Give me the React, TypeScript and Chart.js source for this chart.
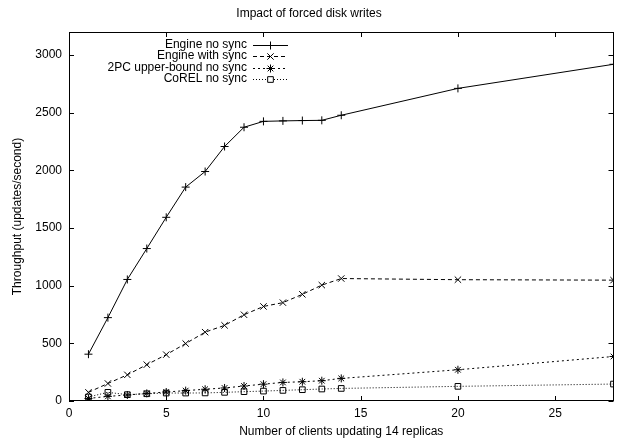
import React, { useEffect, useRef } from "react";
import { Chart, registerables } from "chart.js";
import { drawPoint } from "chart.js/helpers";

Chart.register(...registerables);

const clients = [1, 2, 3, 4, 5, 6, 7, 8, 9, 10, 11, 12, 13, 14, 20, 28];
const engineNoSync = [406, 723, 1054, 1322, 1593, 1855, 1990, 2207, 2374, 2425, 2429, 2432, 2434, 2478, 2711, 2920];
const engineWithSync = [75, 152, 227, 315, 402, 498, 597, 656, 748, 820, 853, 925, 1005, 1062, 1052, 1048];
const twoPCNoSync = [22, 40, 52, 66, 78, 90, 102, 113, 130, 146, 161, 167, 176, 196, 271, 386];
const corelNoSync = [35, 75, 55, 63, 69, 69, 70, 75, 81, 86, 92, 98, 104, 109, 127, 147];

const seriesNames = ["Engine no sync", "Engine with sync", "2PC upper-bound no sync", "CoREL no sync"];
const xTicks = [0, 5, 10, 15, 20, 25];
const yTicks = [0, 500, 1000, 1500, 2000, 2500, 3000];

const FONT = "'Liberation Sans', Arial, Helvetica, sans-serif";
const FS = 12;

const styles = [
  { dash: [], point: "cross", radius: 4 },
  { dash: [4, 3], point: "crossRot", radius: 4.5 },
  { dash: [2, 3], point: "star", radius: 4 },
  { dash: [1, 2], point: "rect", radius: 4 },
];

const frame = {
  id: "frame",
  afterDatasetsDraw(chart: any) {
    const { ctx, chartArea: a, scales } = chart;
    ctx.save();
    ctx.strokeStyle = "#000";
    ctx.lineWidth = 1;
    ctx.setLineDash([]);
    ctx.strokeRect(Math.round(a.left) + 0.5, Math.round(a.top) + 0.5, Math.round(a.right - a.left) - 1, Math.round(a.bottom - a.top) - 1);
    const L = 5;
    ctx.beginPath();
    for (const v of xTicks) {
      const px = Math.round(scales.x.getPixelForValue(v)) + 0.5;
      ctx.moveTo(px, a.bottom);
      ctx.lineTo(px, a.bottom - L);
      ctx.moveTo(px, a.top);
      ctx.lineTo(px, a.top + L);
    }
    for (const v of yTicks) {
      const py = Math.round(scales.y.getPixelForValue(v)) + 0.5;
      ctx.moveTo(a.left, py);
      ctx.lineTo(a.left + L, py);
      ctx.moveTo(a.right, py);
      ctx.lineTo(a.right - L, py);
    }
    ctx.stroke();
    ctx.restore();
  },
  afterDraw(chart: any) {
    const { ctx } = chart;
    ctx.save();
    ctx.font = `${FS}px ${FONT}`;
    ctx.textAlign = "right";
    ctx.textBaseline = "middle";
    const textRight = 247;
    const x0 = 253;
    const x1 = 288;
    seriesNames.forEach((name, i) => {
      const y = 44.5 + i * 11.5;
      ctx.fillStyle = "#000";
      ctx.fillText(name, textRight, y);
      const st = styles[i];
      ctx.strokeStyle = "#000";
      ctx.lineWidth = 1;
      ctx.setLineDash(st.dash);
      ctx.beginPath();
      ctx.moveTo(x0, Math.round(y) + 0.5);
      ctx.lineTo(x1, Math.round(y) + 0.5);
      ctx.stroke();
      ctx.setLineDash([]);
      ctx.fillStyle = "#fff";
      drawPoint(ctx, { pointStyle: st.point, radius: st.radius, borderWidth: 1, rotation: 0 } as any, (x0 + x1) / 2, Math.round(y) + 0.5);
    });
    ctx.restore();
  },
};

export default function App() {
  const ref = useRef<HTMLCanvasElement>(null);
  useEffect(() => {
    document.body.style.margin = "0";
    const datasets = [engineNoSync, engineWithSync, twoPCNoSync, corelNoSync].map((vals, i) => ({
      label: seriesNames[i],
      data: clients.map((c, j) => ({ x: c, y: vals[j] })),
      borderColor: "#000",
      backgroundColor: "rgba(0,0,0,0)",
      borderWidth: 1,
      borderDash: styles[i].dash,
      pointStyle: styles[i].point,
      pointRadius: styles[i].radius,
      pointBorderColor: "#000",
      pointBackgroundColor: "rgba(0,0,0,0)",
      pointBorderWidth: 1,
      tension: 0,
    }));
    const chart = new Chart(ref.current!, {
      type: "line",
      data: { datasets },
      plugins: [frame],
      options: {
        animation: false,
        responsive: false,
        layout: { padding: { left: 0, right: 1, top: 0, bottom: 0 } },
        plugins: {
          legend: { display: false },
          tooltip: { enabled: false },
          title: {
            display: true,
            text: "Impact of forced disk writes",
            color: "#000",
            font: { family: FONT, size: FS, weight: "normal" },
            padding: { top: 6.8, bottom: 10.8 },
          },
        },
        scales: {
          x: {
            type: "linear",
            min: 0,
            max: 28,
            afterFit: (s: any) => { s.height = 43; },
            afterBuildTicks: (s: any) => { s.ticks = xTicks.map((v) => ({ value: v })); },
            border: { display: false },
            grid: { display: false, drawTicks: false },
            ticks: {
              color: "#000",
              padding: 5.5,
              maxRotation: 0,
              autoSkip: false,
              callback: (v: any) => String(v),
              font: { family: FONT, size: FS },
            },
            title: {
              display: true,
              text: "Number of clients updating 14 replicas",
              color: "#000",
              font: { family: FONT, size: FS },
              padding: { top: 0, bottom: 4.8 },
            },
          },
          y: {
            type: "linear",
            min: 0,
            max: 3200,
            afterFit: (s: any) => { s.width = 69; },
            afterBuildTicks: (s: any) => { s.ticks = yTicks.map((v) => ({ value: v })); },
            border: { display: false },
            grid: { display: false, drawTicks: false },
            ticks: {
              color: "#000",
              padding: 7,
              autoSkip: false,
              callback: (v: any) => String(v),
              font: { family: FONT, size: FS },
            },
            title: {
              display: true,
              text: "Throughput (updates/second)",
              color: "#000",
              font: { family: FONT, size: FS },
              padding: { top: 10.8, bottom: 0 },
            },
          },
        },
      } as any,
    });
    return () => chart.destroy();
  }, []);
  return (
    <div style={{ width: 619, height: 444 }}>
      <canvas ref={ref} width={619} height={444} style={{ display: "block" }} />
    </div>
  );
}
